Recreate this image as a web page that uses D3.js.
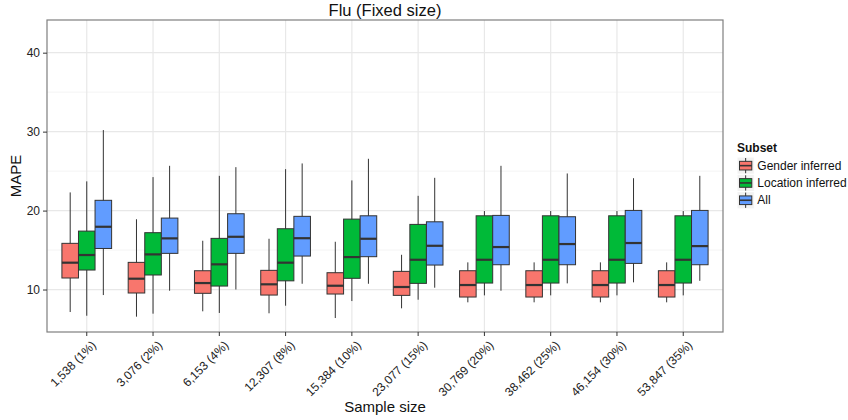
<!DOCTYPE html>
<html>
<head>
<meta charset="utf-8">
<script src="https://cdn.jsdelivr.net/npm/d3@7"></script>
<style>
  body { margin: 0; background: #fff; }
  text { font-family: "Liberation Sans", Arial, sans-serif; }
</style>
</head>
<body>
<div id="chart"></div>
<script>
// sample sizes on x
const categories = ["1,538 (1%)", "3,076 (2%)", "6,153 (4%)", "12,307 (8%)", "15,384 (10%)",
  "23,077 (15%)", "30,769 (20%)", "38,462 (25%)", "46,154 (30%)", "53,847 (35%)"]
const subsets = ["Gender inferred", "Location inferred", "All"]
const colors = ["#F8766D", "#00BA38", "#619CFF"]
const yTicks = [10, 20, 30, 40]
const yMinor = [15, 25, 35]

// [lower whisker, q1, median, q3, upper whisker]
const genderStats = [
  [7.15, 11.46, 13.4, 15.85, 22.3],
  [6.56, 9.56, 11.37, 13.44, 18.9],
  [7.24, 9.52, 10.82, 12.38, 16.18],
  [6.99, 9.3, 10.66, 12.43, 16.43],
  [6.39, 9.43, 10.48, 12.13, 16.05],
  [7.62, 9.26, 10.32, 12.3, 14.4],
  [8.38, 9.05, 10.57, 12.38, 13.44],
  [8.38, 9.05, 10.57, 12.38, 13.44],
  [8.38, 9.05, 10.57, 12.38, 13.44],
  [8.38, 9.05, 10.57, 12.38, 13.44]
]
const locationStats = [
  [6.68, 12.47, 14.37, 17.4, 23.7],
  [6.94, 11.84, 14.45, 17.2, 24.24],
  [7.03, 10.44, 13.19, 16.48, 24.4],
  [7.95, 11.1, 13.4, 17.7, 25.25],
  [8.54, 11.42, 14.11, 18.92, 23.82],
  [8.71, 10.78, 13.77, 18.25, 21.87],
  [9.26, 10.82, 13.77, 19.34, 19.94],
  [9.26, 10.82, 13.77, 19.34, 19.94],
  [9.26, 10.82, 13.77, 19.34, 19.94],
  [9.26, 10.82, 13.77, 19.34, 19.94]
]
const allStats = [
  [9.3, 15.2, 17.95, 21.3, 30.2],
  [9.85, 14.58, 16.48, 19.05, 25.67],
  [10.0, 14.58, 16.68, 19.6, 25.5],
  [10.73, 14.24, 16.5, 19.27, 25.97],
  [10.73, 14.16, 16.43, 19.34, 26.56],
  [10.23, 13.1, 15.54, 18.58, 24.15],
  [9.85, 13.14, 15.38, 19.39, 25.67],
  [10.78, 13.14, 15.76, 19.22, 24.7],
  [10.91, 13.31, 15.89, 20.02, 24.1],
  [11.1, 13.14, 15.5, 20.02, 24.4]
]
const stats = [genderStats, locationStats, allStats]

const width = 848, height = 420
const pLeft = 47, pRight = 723, pTop = 20, pBottom = 332

const svg = d3.select('#chart')
  .append('svg')
  .attr('width', width)
  .attr('height', height)

const x = d3.scaleBand()
  .domain(categories)
  .range([pLeft, pRight])
  .paddingInner(0)
  .paddingOuter(0.1)

const sub = d3.scaleBand()
  .domain(subsets)
  .range([0, x.bandwidth() * 0.75])

const y = d3.scaleLinear()
  .domain([4.62, 44.14])
  .range([pBottom, pTop])

// grid
svg.selectAll('.minor')
  .data(yMinor)
  .enter()
  .append('line')
  .attr('x1', pLeft).attr('x2', pRight)
  .attr('y1', d => y(d)).attr('y2', d => y(d))
  .style('stroke', '#F4F4F4')
  .style('stroke-width', 1)

svg.selectAll('.major')
  .data(yTicks)
  .enter()
  .append('line')
  .attr('x1', pLeft).attr('x2', pRight)
  .attr('y1', d => y(d)).attr('y2', d => y(d))
  .style('stroke', '#E8E8E8')
  .style('stroke-width', 1.2)

svg.selectAll('.vgrid')
  .data(categories)
  .enter()
  .append('line')
  .attr('x1', d => x(d) + x.bandwidth() / 2)
  .attr('x2', d => x(d) + x.bandwidth() / 2)
  .attr('y1', pTop).attr('y2', pBottom)
  .style('stroke', '#E8E8E8')
  .style('stroke-width', 1.2)

// boxes
const boxes = []
categories.forEach(function(c, i) {
  subsets.forEach(function(s, j) {
    const v = stats[j][i]
    boxes.push({ cat: c, sub: s, color: colors[j], lo: v[0], q1: v[1], med: v[2], q3: v[3], hi: v[4] })
  })
})

const xBox = d => x(d.cat) + x.bandwidth() / 2 - x.bandwidth() * 0.375 + sub(d.sub)
const g = svg.selectAll('.box')
  .data(boxes)
  .enter()
  .append('g')

g.append('line')
  .attr('x1', d => xBox(d) + sub.bandwidth() / 2)
  .attr('x2', d => xBox(d) + sub.bandwidth() / 2)
  .attr('y1', d => y(d.lo))
  .attr('y2', d => y(d.hi))
  .style('stroke', '#333')
  .style('stroke-width', 1)

g.append('rect')
  .attr('x', d => xBox(d))
  .attr('width', sub.bandwidth())
  .attr('y', d => y(d.q3))
  .attr('height', d => y(d.q1) - y(d.q3))
  .style('fill', d => d.color)
  .style('stroke', '#333')
  .style('stroke-width', 1)

g.append('line')
  .attr('x1', d => xBox(d))
  .attr('x2', d => xBox(d) + sub.bandwidth())
  .attr('y1', d => y(d.med))
  .attr('y2', d => y(d.med))
  .style('stroke', '#333')
  .style('stroke-width', 2.2)

// panel border
svg.append('rect')
  .attr('x', pLeft).attr('y', pTop)
  .attr('width', pRight - pLeft).attr('height', pBottom - pTop)
  .style('fill', 'none')
  .style('stroke', '#7F7F7F')
  .style('stroke-width', 1.2)

// y axis
const yAxis = svg.append('g')
  .attr('transform', `translate(${pLeft},0)`)
  .call(d3.axisLeft(y).tickValues(yTicks).tickSize(4).tickPadding(3))
yAxis.select('.domain').remove()
yAxis.selectAll('line').style('stroke', '#333')
yAxis.selectAll('text')
  .style('font-size', '12px')
  .style('fill', '#222')
  .style('font-family', '"Liberation Sans", Arial, sans-serif')

// x axis
const xAxis = svg.append('g')
  .attr('transform', `translate(0,${pBottom})`)
  .call(d3.axisBottom(x).tickSize(4))
xAxis.select('.domain').remove()
xAxis.selectAll('line').style('stroke', '#333')
xAxis.selectAll('text')
  .style('font-size', '12px')
  .style('fill', '#222')
  .style('font-family', '"Liberation Sans", Arial, sans-serif')
  .attr('text-anchor', 'end')
  .attr('dy', '0.7em')
  .attr('y', 0)
  .attr('transform', 'translate(4,8) rotate(-45)')

// titles
svg.append('text')
  .attr('x', (pLeft + pRight) / 2)
  .attr('y', 16)
  .attr('text-anchor', 'middle')
  .style('font-size', '16.5px')
  .style('fill', '#111')
  .text('Flu (Fixed size)')

svg.append('text')
  .attr('x', (pLeft + pRight) / 2)
  .attr('y', 412)
  .attr('text-anchor', 'middle')
  .style('font-size', '15px')
  .style('fill', '#111')
  .text('Sample size')

svg.append('text')
  .attr('transform', `translate(21,${(pTop + pBottom) / 2}) rotate(-90)`)
  .attr('text-anchor', 'middle')
  .style('font-size', '15px')
  .style('fill', '#111')
  .text('MAPE')

// legend
const lg = svg.append('g').attr('transform', 'translate(737,140)')
lg.append('text')
  .attr('x', 0).attr('y', 12)
  .style('font-size', '12px')
  .style('font-weight', 'bold')
  .style('fill', '#111')
  .text('Subset')

const key = 17.3
const items = lg.selectAll('.item')
  .data(subsets)
  .enter()
  .append('g')
  .attr('transform', (d, i) => `translate(0,${17 + i * key})`)

items.append('rect')
  .attr('width', key).attr('height', key)
  .style('fill', '#F2F2F2')
  .style('stroke', '#fff')
  .style('stroke-width', 1)
items.append('line')
  .attr('x1', key / 2).attr('x2', key / 2)
  .attr('y1', 1).attr('y2', key - 1)
  .style('stroke', '#333')
items.append('rect')
  .attr('x', 2.5).attr('y', key * 0.25)
  .attr('width', key - 5).attr('height', key * 0.5)
  .style('fill', (d, i) => colors[i])
  .style('stroke', '#333')
  .style('stroke-width', 1)
items.append('line')
  .attr('x1', 2.5).attr('x2', key - 2.5)
  .attr('y1', key / 2).attr('y2', key / 2)
  .style('stroke', '#333')
  .style('stroke-width', 1.6)
items.append('text')
  .attr('x', key + 3)
  .attr('y', key / 2)
  .attr('dy', '0.35em')
  .style('font-size', '12px')
  .style('fill', '#111')
  .text(d => d)
</script>
</body>
</html>
